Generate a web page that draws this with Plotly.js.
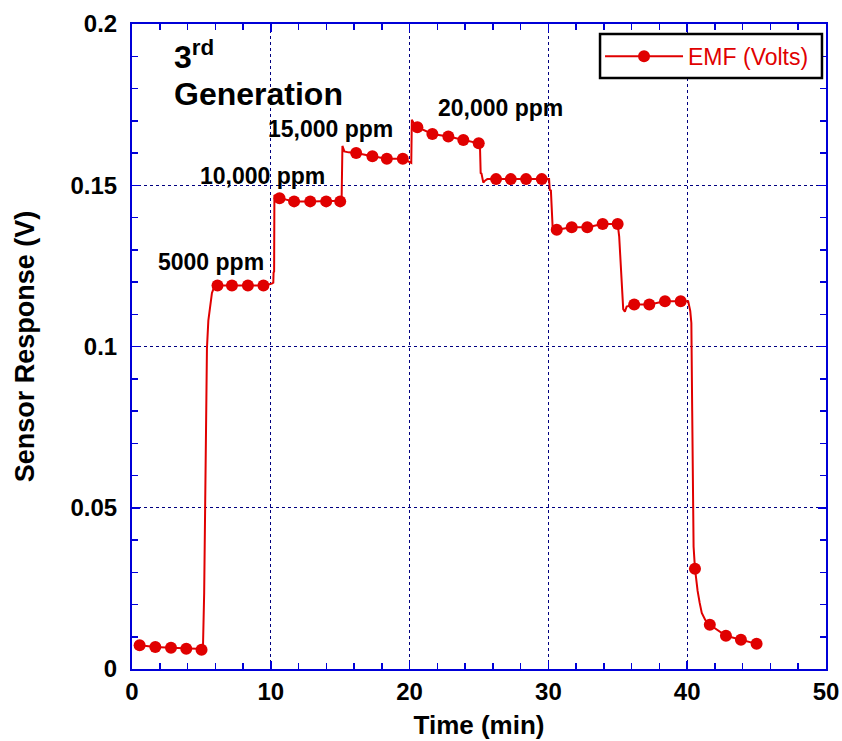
<!DOCTYPE html>
<html>
<head>
<meta charset="utf-8">
<script src="https://cdn.plot.ly/plotly-3.0.1.min.js"></script>
<style>
  html, body { margin: 0; padding: 0; background: #ffffff; }
  #chart { width: 842px; height: 741px; }
</style>
</head>
<body>
<div id="chart"></div>
<script>
// Sensor EMF trace (continuous recording)
const lineTime = [
  0.55, 1.68, 2.81, 3.91, 5.01, 5.11, 5.20, 5.28, 5.40, 5.50, 5.59, 5.76, 5.90, 6.00,
  6.16, 7.20, 8.35, 9.47, 10.07, 10.18, 10.20, 10.24, 10.26, 10.45,
  10.63, 11.68, 12.84, 13.99, 15.00, 15.10, 15.16, 15.30, 15.60,
  16.15, 17.32, 18.36, 19.51, 20.00, 20.12, 20.16, 20.33,
  20.56, 21.64, 22.79, 23.87, 24.98, 25.07, 25.12, 25.18, 25.31, 25.45, 25.60,
  26.23, 27.29, 28.39, 29.52, 30.05, 30.10, 30.18, 30.31,
  30.60, 31.68, 32.80, 33.91, 34.99, 35.10, 35.39, 35.51, 35.64,
  36.18, 37.27, 38.40, 39.53, 40.07, 40.22, 40.30, 40.36, 40.46,
  40.56, 40.66, 40.75, 40.90, 41.05, 41.30, 41.63, 42.79, 43.87, 45.00
];
const lineEmf = [
  0.0074, 0.0068, 0.0066, 0.0063, 0.0060, 0.0062, 0.0237, 0.0500, 0.0995, 0.1080, 0.1114, 0.1166, 0.1182, 0.1188,
  0.1189, 0.1189, 0.1189, 0.1189, 0.1195, 0.1198, 0.1230, 0.1232, 0.1470, 0.1463,
  0.1460, 0.1450, 0.1450, 0.1450, 0.1450, 0.1452, 0.1622, 0.1605, 0.1602,
  0.1600, 0.1590, 0.1582, 0.1582, 0.1570, 0.1569, 0.1703, 0.1690,
  0.1680, 0.1659, 0.1651, 0.1640, 0.1630, 0.1622, 0.1538, 0.1536, 0.1508, 0.1515, 0.1519,
  0.1519, 0.1519, 0.1519, 0.1519, 0.1519, 0.1485, 0.1484, 0.1365,
  0.1362, 0.1370, 0.1370, 0.1380, 0.1380, 0.1341, 0.1116, 0.1108, 0.1124,
  0.1130, 0.1130, 0.1140, 0.1140, 0.1140, 0.1110, 0.1073, 0.0800, 0.0380,
  0.0311, 0.0270, 0.0242, 0.0205, 0.0174, 0.0152, 0.0137, 0.0103, 0.0091, 0.0078
];

// Logged sample points shown as markers
const markTime = [
  0.55, 1.68, 2.81, 3.91, 5.01,
  6.16, 7.20, 8.35, 9.47,
  10.63, 11.68, 12.84, 13.99, 15.00,
  16.15, 17.32, 18.36, 19.51,
  20.56, 21.64, 22.79, 23.87, 24.98,
  26.23, 27.29, 28.39, 29.52,
  30.60, 31.68, 32.80, 33.91, 34.99,
  36.18, 37.27, 38.40, 39.53,
  40.56, 41.63, 42.79, 43.87, 45.00
];
const markEmf = [
  0.0074, 0.0068, 0.0066, 0.0063, 0.0060,
  0.1189, 0.1189, 0.1189, 0.1189,
  0.1460, 0.1450, 0.1450, 0.1450, 0.1450,
  0.1600, 0.1590, 0.1582, 0.1582,
  0.1680, 0.1659, 0.1651, 0.1640, 0.1630,
  0.1519, 0.1519, 0.1519, 0.1519,
  0.1362, 0.1370, 0.1370, 0.1380, 0.1380,
  0.1130, 0.1130, 0.1140, 0.1140,
  0.0311, 0.0137, 0.0103, 0.0091, 0.0078
];

const seriesName = 'EMF (Volts)';
const concLabels = ['5000 ppm', '10,000 ppm', '15,000 ppm', '20,000 ppm'];
const xTicks = [0, 10, 20, 30, 40, 50];
const yTicks = [0, 0.05, 0.1, 0.15, 0.2];
const yTickText = ['0', '0.05', '0.1', '0.15', '0.2'];

const RED = '#e00000';
const AXIS = '#0000d8';
const GRID = '#000080';
const FONT = 'Liberation Sans, Arial, Helvetica, sans-serif';

const traces = [
  {
    x: lineTime, y: lineEmf, type: 'scatter', mode: 'lines',
    line: { color: RED, width: 2 }, showlegend: false, hoverinfo: 'skip'
  },
  {
    x: markTime, y: markEmf, type: 'scatter', mode: 'markers',
    marker: { color: RED, size: 12 }, showlegend: false
  },
  {
    // legend entry: line with a marker
    x: [null], y: [null], type: 'scatter', mode: 'lines+markers', name: seriesName,
    line: { color: RED, width: 2 }, marker: { color: RED, size: 12 }
  }
];

const labelFont = { family: FONT, size: 23, color: '#000000', weight: 'bold' };
const labelPos = [
  { x: 1.75, y: 0.1262 },
  { x: 4.75, y: 0.1529 },
  { x: 9.68, y: 0.1673 },
  { x: 21.92, y: 0.1739 }
];

const annotations = concLabels.map((t, i) => ({
  text: t, x: labelPos[i].x, y: labelPos[i].y, xref: 'x', yref: 'y',
  xanchor: 'left', yanchor: 'middle', showarrow: false, font: labelFont
}));
annotations.push({
  text: '3<sup>rd</sup>', x: 2.85, y: 0.1905, xref: 'x', yref: 'y',
  xanchor: 'left', yanchor: 'middle', showarrow: false,
  font: { family: FONT, size: 32, color: '#000000', weight: 'bold' }
});
annotations.push({
  text: 'Generation', x: 2.85, y: 0.1782, xref: 'x', yref: 'y',
  xanchor: 'left', yanchor: 'middle', showarrow: false,
  font: { family: FONT, size: 32, color: '#000000', weight: 'bold' }
});

const axisCommon = {
  showline: true, linecolor: AXIS, linewidth: 2, mirror: 'ticks',
  ticks: 'inside', ticklen: 8, tickwidth: 1.5, tickcolor: AXIS,
  showgrid: true, gridcolor: GRID, griddash: 'dot', gridwidth: 1,
  zeroline: false,
  tickfont: { family: FONT, size: 24, color: '#000000', weight: 'bold' }
};

const layout = {
  width: 842, height: 741,
  margin: { l: 132, r: 16, t: 24, b: 72 },
  paper_bgcolor: '#ffffff', plot_bgcolor: '#ffffff',
  font: { family: FONT },
  xaxis: Object.assign({}, axisCommon, {
    range: [0, 50], tickvals: xTicks, ticktext: xTicks.map(String),
    minor: { dtick: 2, ticks: 'inside', ticklen: 6, tickwidth: 1.5, tickcolor: AXIS, showgrid: false },
    title: { text: 'Time (min)', font: { family: FONT, size: 26, color: '#000000', weight: 'bold' }, standoff: 12 }
  }),
  yaxis: Object.assign({}, axisCommon, {
    range: [0, 0.2], tickvals: yTicks, ticktext: yTickText,
    ticklabelstandoff: 8,
    minor: { dtick: 0.01, ticks: 'inside', ticklen: 6, tickwidth: 1.5, tickcolor: AXIS, showgrid: false },
    title: { text: 'Sensor Response (V)', font: { family: FONT, size: 27, color: '#000000', weight: 'bold' }, standoff: 28 }
  }),
  legend: {
    x: 0.6744, y: 0.950, xanchor: 'left', yanchor: 'middle',
    bgcolor: 'rgba(0,0,0,0)', borderwidth: 0,
    font: { family: FONT, size: 23, color: RED },
    itemsizing: 'trace', itemwidth: 78
  },
  // opaque framed box behind the legend entry
  shapes: [{
    type: 'rect', xref: 'paper', yref: 'paper',
    x0: 0.6744, x1: 0.9942, y0: 0.9163, y1: 0.9845,
    fillcolor: '#ffffff', line: { color: '#000000', width: 2.5 }, layer: 'above'
  }],
  annotations: annotations
};

Plotly.newPlot('chart', traces, layout, { staticPlot: true, displayModeBar: false });
</script>
</body>
</html>
